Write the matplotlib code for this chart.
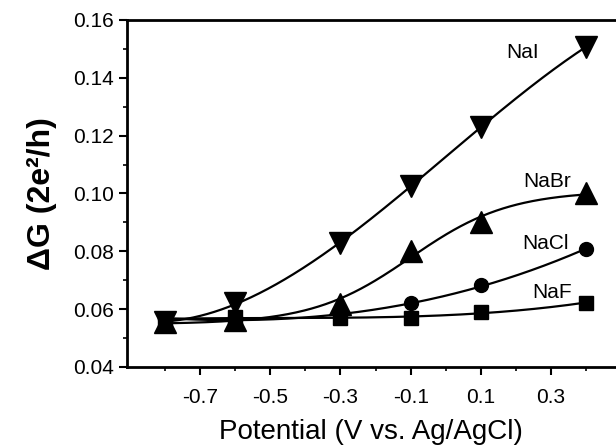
import numpy as np
import matplotlib
matplotlib.use("Agg")
import matplotlib.pyplot as plt
from matplotlib.ticker import MultipleLocator, FixedLocator

plt.rcParams['font.family'] = ['Liberation Sans', 'DejaVu Sans']

potential = [-0.8, -0.6, -0.3, -0.1, 0.1, 0.4]
nai = [0.0556, 0.0620, 0.0828, 0.1026, 0.1230, 0.1507]
nabr = [0.0556, 0.0562, 0.0619, 0.0801, 0.0903, 0.1003]
nacl = [0.0565, 0.0572, 0.0572, 0.0622, 0.0683, 0.0808]
naf = [0.0565, 0.0572, 0.0570, 0.0569, 0.0591, 0.0622]

# name, values, marker, marker size, fit model
series = [("NaI", nai, "v", 16, "poly"), ("NaBr", nabr, "^", 16, "sigmoid"),
          ("NaCl", nacl, "o", 10, "poly"), ("NaF", naf, "s", 10, "poly")]
label_pos = {"NaI": (0.219, 0.1488), "NaBr": (0.288, 0.1043),
             "NaCl": (0.285, 0.0826), "NaF": (0.302, 0.0657)}


def sigmoid_fit(x, y, xs):
    """Least-squares Boltzmann fit y = a + b / (1 + exp(-(x - c) / d))."""
    x = np.asarray(x, float)
    y = np.asarray(y, float)
    best = None
    for c in np.linspace(-1.0, 2.5, 141):
        for d in np.linspace(0.03, 1.0, 98):
            s = 1.0 / (1.0 + np.exp(-(x - c) / d))
            A = np.column_stack([np.ones_like(s), s])
            coef, *_ = np.linalg.lstsq(A, y, rcond=None)
            err = np.sum((A @ coef - y) ** 2)
            if best is None or err < best[0]:
                best = (err, c, d, coef)
    _, c, d, coef = best
    return coef[0] + coef[1] / (1.0 + np.exp(-(xs - c) / d))


def poly_fit(x, y, xs):
    return np.polyval(np.polyfit(x, y, 3), xs)


fig = plt.figure(figsize=(6.16, 4.47), dpi=100)
ax = fig.add_axes([0.2057, 0.179, 0.7943, 0.7763])

xs = np.linspace(-0.8, 0.4, 300)
for name, vals, mk, ms, model in series:
    fit = sigmoid_fit if model == "sigmoid" else poly_fit
    ax.plot(xs, fit(potential, vals, xs), color='black', lw=1.6, zorder=2)
    ax.plot(potential, vals, linestyle='none', marker=mk, ms=ms,
            color='black', zorder=3)
    lx, ly = label_pos[name]
    ax.text(lx, ly, name, fontsize=15, ha='center', va='center', zorder=4)

ax.set_xlim(-0.909, 0.485)
ax.set_ylim(0.04, 0.16)
ax.xaxis.set_major_locator(FixedLocator([-0.7, -0.5, -0.3, -0.1, 0.1, 0.3]))
ax.xaxis.set_minor_locator(FixedLocator([-0.8, -0.6, -0.4, -0.2, 0.0, 0.2, 0.4]))
ax.set_xticklabels(["-0.7", "-0.5", "-0.3", "-0.1", "0.1", "0.3"])
ax.yaxis.set_major_locator(MultipleLocator(0.02))
ax.yaxis.set_minor_locator(MultipleLocator(0.01))
ax.yaxis.set_major_formatter(plt.FuncFormatter(lambda v, p: f"{v:.2f}"))

ax.tick_params(axis='both', which='major', direction='out', length=6, width=1.5,
               labelsize=15, pad=3)
ax.tick_params(axis='both', which='minor', direction='out', length=3, width=1.2)
ax.tick_params(axis='x', which='major', pad=9)

for side in ['left', 'bottom', 'top']:
    ax.spines[side].set_linewidth(2.0)
ax.spines['right'].set_visible(False)

ax.set_xlabel("Potential (V vs. Ag/AgCl)", fontsize=20, labelpad=9)
ax.set_ylabel("ΔG (2e²/h)", fontsize=23, fontweight='bold', labelpad=12)

fig.savefig("out.png", dpi=100)
